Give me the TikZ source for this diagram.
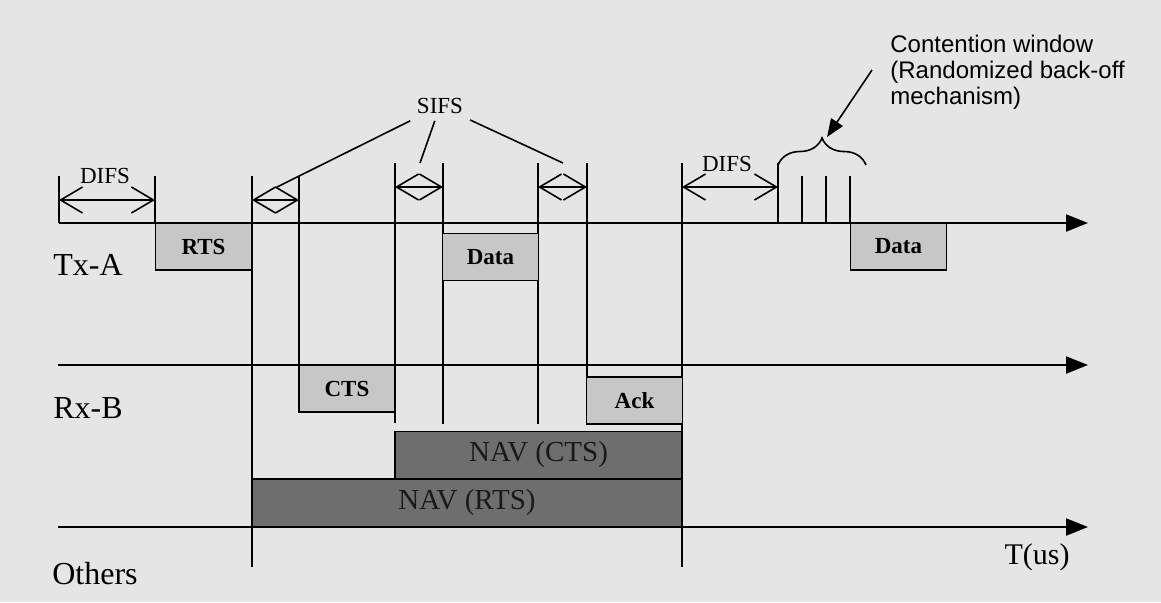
\documentclass[tikz,border=0pt]{standalone}
\usepackage{fontspec}
\setmainfont{Liberation Serif}
\newfontfamily\arialfont{Liberation Sans}
\usetikzlibrary{arrows.meta,decorations.pathreplacing}

\tikzset{
  packet/.style={draw,line width=0.8pt,fill=black!22,minimum width=48pt,minimum height=23.5pt,inner sep=0pt,font=\fontsize{11.5}{12}\selectfont\bfseries},
  navbar/.style={draw,line width=0.8pt,fill=black!57,text=black!90,inner sep=0pt,minimum height=23.5pt,font=\fontsize{14.5}{15}\selectfont},
  spanarrow/.style={{Straight Barb[length=11pt,width=13pt]}-{Straight Barb[length=11pt,width=13pt]},line width=0.8pt},
  timeaxis/.style={-{Triangle[length=11pt,width=8.5pt]},line width=1.1pt},
  ifslabel/.style={font=\fontsize{11.5}{12}\selectfont},
  rowlabel/.style={anchor=base,font=\fontsize{16}{17}\selectfont},
}

\begin{document}
\begin{tikzpicture}[x=0.5pt,y=-0.5pt]
    \fill[black!10] (0,0) rectangle (1161,602);
    \useasboundingbox (0,0) rectangle (1161,602);

    % time lines
    \coordinate (a0) at (59,223);   \coordinate (a1) at (1088,223);
    \coordinate (b0) at (58,365);   \coordinate (b1) at (1088,365);
    \coordinate (c0) at (58,527);   \coordinate (c1) at (1088,527);

    \draw[line width=0.8pt]
        (59,176) -- (59,223)
        (155,176) -- (155,223)
        (252,176) -- (252,567)
        (299,176) -- (299,365)
        (395,163) -- (395,423)
        (443,163) -- (443,424)
        (538,163) -- (538,424)
        (587,163) -- (587,377)
        (682,163) -- (682,567)
        (778,163) -- (778,223)
        (802,176) -- (802,223)
        (826,176) -- (826,223)
        (850,176) -- (850,223);

    \node[packet] (rts) at (203.5,246.5) {RTS};
    \node[packet] (data1) at (490.5,257) {Data};
    \node[packet] (cts) at (347,388.5) {CTS};
    \node[packet] (ack) at (634.5,400.5) {Ack};
    \node[packet] (data2) at (898.5,246.5) {Data};
    \node[navbar,minimum width=143.5pt] (navcts) at (538.5,455) {NAV (CTS)};
    \node[navbar,minimum width=215pt,minimum height=24pt] (navrts) at (467,503) {NAV (RTS)};

    \draw[timeaxis] (a0) -- (a1);
    \draw[timeaxis] (b0) -- (b1);
    \draw[timeaxis] (c0) -- (c1);

    \node[rowlabel] (txa) at (88,275) {Tx-A};
    \node[rowlabel] (rxb) at (88,418) {Rx-B};
    \node[rowlabel] (oth) at (95,584) {Others};
    \node[rowlabel,font=\fontsize{15}{16}\selectfont] (tus) at (1037,564) {T(us)};

    % interframe spaces
    \draw[spanarrow] (59,200) -- (155,200);
    \draw[spanarrow] (252,200) -- (299,200);
    \draw[spanarrow] (395,187) -- (443,187);
    \draw[spanarrow] (538,187) -- (587,187);
    \draw[spanarrow] (682,187) -- (778,187);
    \node[ifslabel,anchor=base] (difs1) at (105,183) {DIFS};
    \node[ifslabel,anchor=base] (difs2) at (727,171) {DIFS};
    \node[ifslabel] (sifs) at (440,106) {SIFS};

    \coordinate (s1) at (277,187);
    \coordinate (s2) at (420,163);
    \coordinate (s3) at (563,163);
    \draw[line width=0.8pt] (sifs) -- (s1);
    \draw[line width=0.8pt] (sifs) -- (s2);
    \draw[line width=0.8pt] (sifs) -- (s3);

    % contention window
    \draw[line width=0.8pt,decorate,decoration={brace,amplitude=13.5pt}] (778,165) -- (866,165);
    \node[anchor=north west,inner sep=0pt,align=left,font=\arialfont\fontsize{12}{13}\selectfont] (cw) at (890,35)
        {Contention window\\(Randomized back-off\\mechanism)};
    \coordinate (cwfrom) at (872,70);
    \coordinate (cwtip) at (827,137);
    \draw[-{Triangle[length=9pt,width=7pt]},line width=0.8pt] (cwfrom) -- (cwtip);
\end{tikzpicture}
\end{document}
